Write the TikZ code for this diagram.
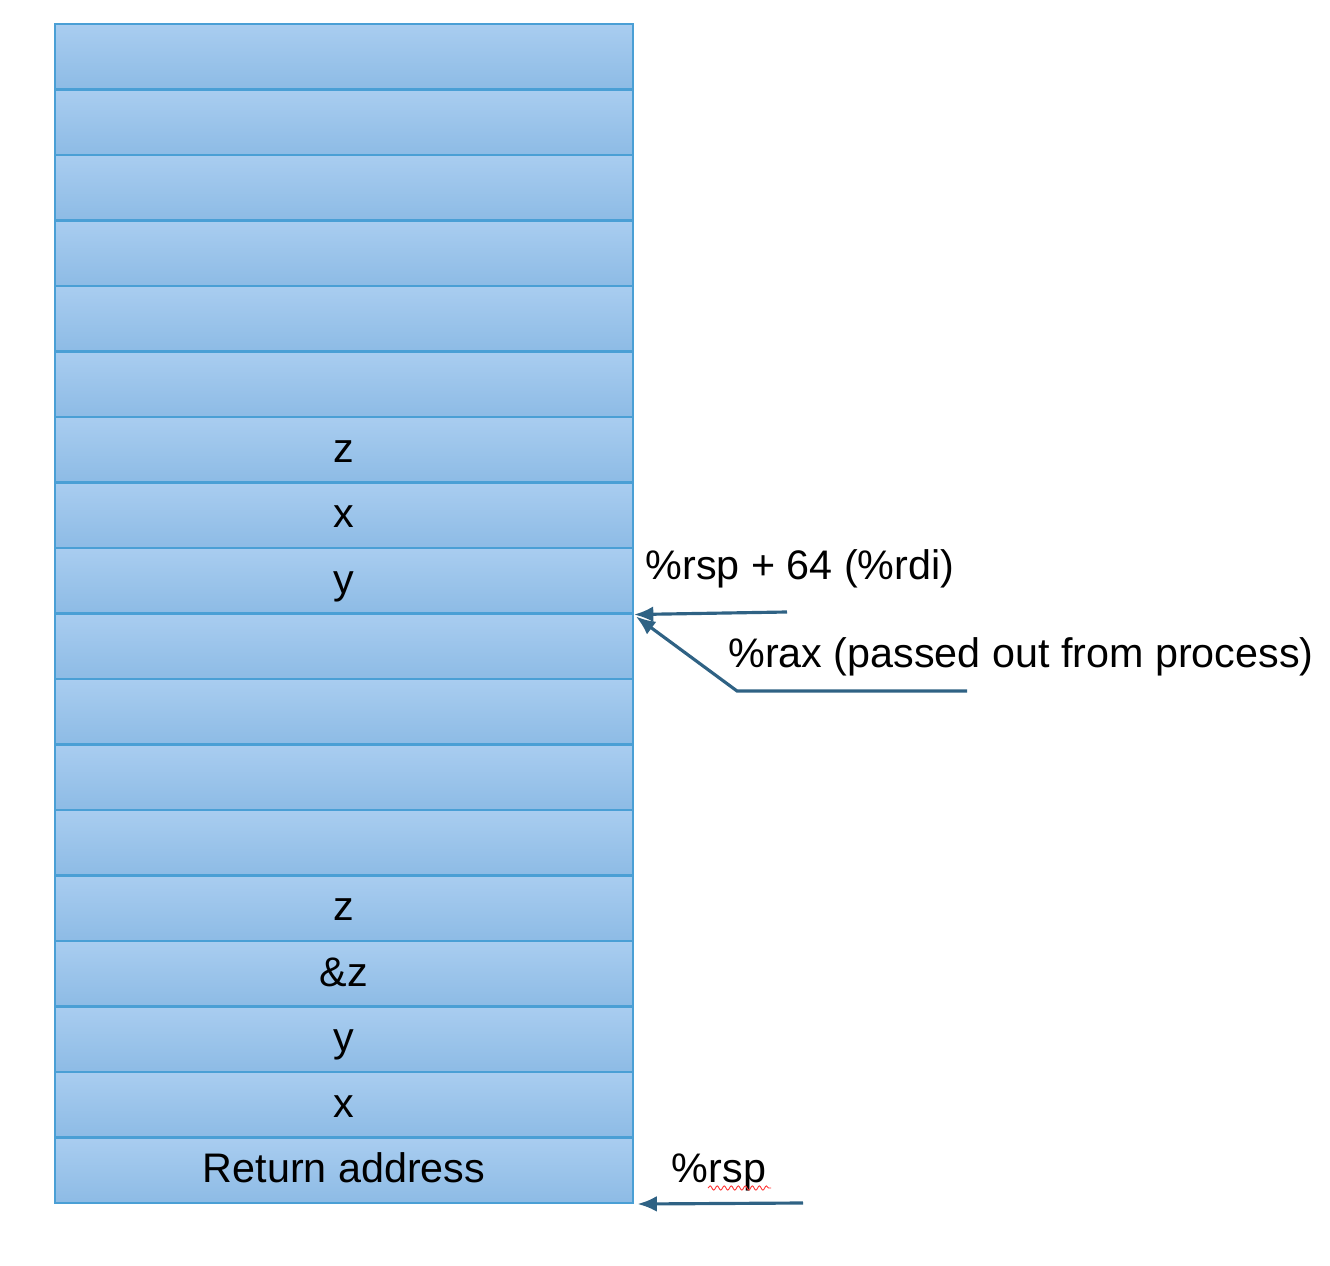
\documentclass[tikz,border=0pt]{standalone}
\usepackage{fontspec}
\setmainfont{Liberation Sans}
\usepackage{xcolor}
\usetikzlibrary{arrows.meta,positioning,decorations.pathmorphing}

\definecolor{celltop}{HTML}{A9CDF0}
\definecolor{cellbot}{HTML}{8DBBE5}
\definecolor{cellline}{HTML}{4A9FD5}
\definecolor{ptrblue}{HTML}{2F6284}

\begin{document}
\begin{tikzpicture}[x=0.02cm, y=-0.02cm,
          cell/.style={draw=cellline, line width=1.2pt, top color=celltop, bottom color=cellbot, minimum width=11.56cm, minimum height=1.31cm, inner sep=0pt, text height=14pt, text depth=0pt, font=\fontsize{23.5}{28}\selectfont},
          lbl/.style={font=\fontsize{23.5}{28}\selectfont},
          ptr/.style={-{Latex[length=11pt,width=9pt]}, draw=ptrblue, line width=1.8pt}
      ]
        \useasboundingbox (0,0) rectangle (1330,1266);
        % stack slots, top to bottom
        \foreach \i/\txt in {1/,2/,3/,4/,5/,6/,7/z,8/x,9/y,10/,11/,12/,13/,14/z,15/\&z,16/y,17/x,18/Return address}
          \node[cell] (cell\i) at (344,{24+65.5*(\i-0.5)}) {\txt};
        \node[lbl] (rdi) at (800,569) {\%rsp + 64 (\%rdi)};
        \node[lbl] (rax) at (1021,657) {\%rax (passed out from process)};
        \node[lbl] (rsp) at (719,1172) {\%rsp};
        \coordinate (rditail) at (787,612);
        \coordinate (raxtail) at (967,691);
        \coordinate (raxbend) at (737,691);
        \coordinate (rsptail) at (803,1203);
        \coordinate (squiga) at (708,1188);
        \coordinate (squigb) at (771,1188);
        \draw[ptr] (rditail) -- (cell9.south east);
        \draw[ptr] (raxtail) -- (raxbend) -- ([shift={(2,2)}]cell9.south east);
        \draw[ptr, shorten >=2pt] (rsptail) -- (cell18.south east);
        \draw[red!80, line width=0.5pt, decorate, decoration={snake, amplitude=1.2pt, segment length=4pt}] (squiga) -- (squigb);
      \end{tikzpicture}
\end{document}
